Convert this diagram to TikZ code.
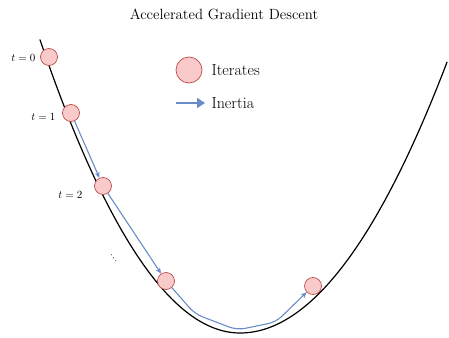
\documentclass[tikz,border=0pt]{standalone}
\usetikzlibrary{arrows.meta}
\definecolor{itfill}{RGB}{248,202,202}
\definecolor{itdraw}{RGB}{190,75,75}
\definecolor{inblue}{RGB}{105,140,200}
\begin{document}
\begin{tikzpicture}[x=1pt,y=-1pt,
  iter/.style={circle,fill=itfill,draw=itdraw,line width=0.7pt,minimum size=17pt,inner sep=0pt},
  inertia/.style={draw=inblue,line width=1.1pt,-{Stealth[length=6pt,width=5pt]}},
  tlab/.style={font=\fontsize{11}{12}\selectfont,anchor=east},
  legtext/.style={anchor=west,font=\fontsize{16}{18}\selectfont}]
\useasboundingbox (0,0) rectangle (449,337);
\node (title) at (224,14) {\fontsize{14.8}{17}\selectfont Accelerated Gradient Descent};
% curve
\draw[line width=1.2pt,line cap=round] plot[domain=40:240,samples=60,smooth] (\x,{333-0.733*((\x-240)/10)^2})
  -- plot[domain=240:447,samples=60,smooth] (\x,{333-0.632*((\x-240)/10)^2});
\node[iter] (p0) at (49,57) {};
\node[iter] (p1) at (71,113) {};
\node[iter] (p2) at (103,186) {};
\node[iter] (p3) at (166,281) {};
\node[iter] (p4) at (313,286) {};
\node[tlab] (l0) at (39,58) {$t=0$};
\node[tlab] (l1) at (59,117) {$t=1$};
\node[tlab] (l2) at (86,195) {$t=2$};
\node[rotate=35] (dd) at (112,256) {$\vdots$};
\draw[inertia] (p1) -- (p2);
\draw[inertia] (p2) -- (p3);
\coordinate (c1) at (195,314);
\coordinate (c2) at (237,330);
\coordinate (c3) at (276,322);
\draw[inertia,rounded corners=8pt] (p3) -- (c1) -- (c2) -- (c3) -- (p4);
% legend
\node[iter,minimum size=26pt] (lc) at (189,70) {};
\node[legtext] (lt) at (208,70) {Iterates};
\coordinate (la) at (176,103);
\coordinate (lb) at (205,103);
\draw[draw=inblue,line width=2.4pt,-{Triangle[length=8pt,width=10pt]}] (la) -- (lb);
\node[legtext] (li) at (208,103) {Inertia};
\end{tikzpicture}
\end{document}
